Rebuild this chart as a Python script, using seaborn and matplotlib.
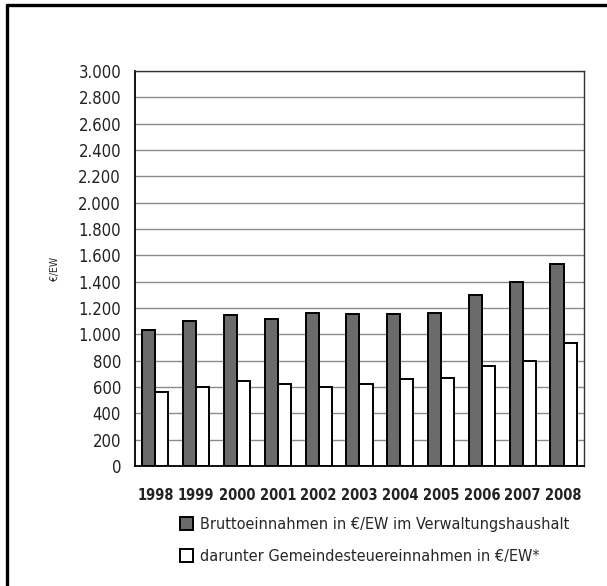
import pandas as pd
import numpy as np
import matplotlib.pyplot as plt
import seaborn as sns
from matplotlib.lines import Line2D

# Werte
jahre = ['1998', '1999', '2000', '2001', '2002', '2003', '2004', '2005', '2006', '2007', '2008']
brutto = [1030, 1104, 1149, 1113, 1159, 1154, 1151, 1164, 1295, 1401, 1538]
steuer = [563, 601, 649, 621, 601, 624, 657, 672, 760, 795, 932]
serien = ['Bruttoeinnahmen in €/EW im Verwaltungshaushalt',
          'darunter Gemeindesteuereinnahmen in €/EW*']
yticks = list(range(0, 3001, 200))

df = pd.DataFrame({
    'Jahr': jahre * 2,
    'Wert': brutto + steuer,
    'Serie': [serien[0]] * len(jahre) + [serien[1]] * len(jahre),
})

sns.set_style('white')
plt.rcParams['font.family'] = ['DejaVu Sans']
plt.rcParams['font.stretch'] = 'condensed'

fig = plt.figure(figsize=(6.07, 5.86), dpi=100)
ax = fig.add_axes([0.2224, 0.2048, 0.7396, 0.6740])

sns.barplot(data=df, x='Jahr', y='Wert', hue='Serie', ax=ax,
            palette=['#6b6b6b', 'white'], width=0.64, gap=0,
            edgecolor='black', linewidth=1.4, saturation=1)

ax.set_ylim(0, 3000)
ax.set_xlim(-0.5, len(jahre) - 0.5)
ax.set_yticks(yticks)
ax.set_yticklabels([f'{v:,}'.replace(',', '.') for v in yticks], fontsize=12, color='#222')
ax.set_xticks(range(len(jahre)))
ax.set_xticklabels(jahre, fontsize=10.5, weight='bold', color='#222')
ax.set_xticks(np.arange(-0.5, len(jahre), 1), minor=True)
ax.tick_params(axis='x', which='major', length=0, pad=16)
ax.tick_params(axis='x', which='minor', length=5, width=1, color='black', direction='out')
ax.tick_params(axis='y', length=4, width=1, color='black', direction='out', pad=6)
ax.grid(axis='y', color='#8a8a8a', linewidth=1)
ax.set_axisbelow(True)
ax.set_xlabel('')
ax.set_ylabel('€/EW', fontsize=7.5, labelpad=13)

for s in ['left', 'bottom']:
    ax.spines[s].set_color('black')
    ax.spines[s].set_linewidth(1.3)
for s in ['top', 'right']:
    ax.spines[s].set_color('#333')
    ax.spines[s].set_linewidth(1)

h, l = ax.get_legend_handles_labels()
ax.legend(h, l, loc='upper left', bbox_to_anchor=(0.272, 0.143),
          bbox_transform=fig.transFigure, frameon=False, fontsize=11.6,
          handlelength=0.85, handleheight=0.85, handletextpad=0.4, labelspacing=1.1)

# Rahmen links und oben
fig.add_artist(Line2D([7 / 607, 7 / 607], [0, 1 - 5 / 586], color='black', lw=2.4, transform=fig.transFigure))
fig.add_artist(Line2D([7 / 607, 1], [1 - 5 / 586, 1 - 5 / 586], color='black', lw=2.4, transform=fig.transFigure))

fig.savefig('out.png', dpi=100)
